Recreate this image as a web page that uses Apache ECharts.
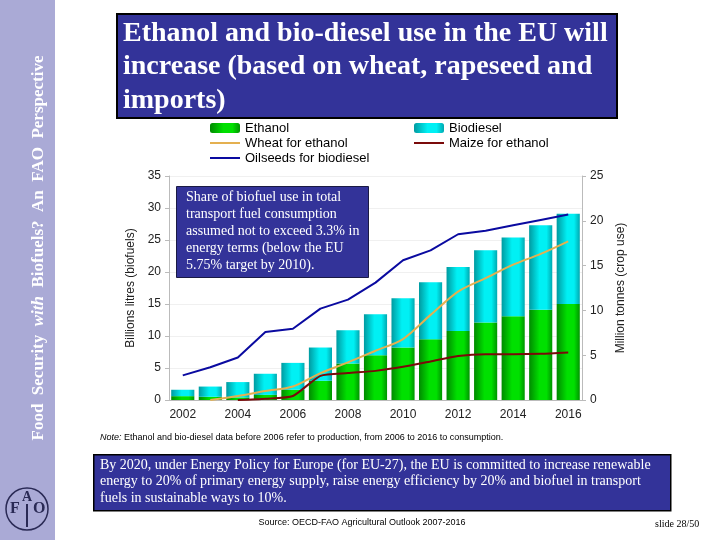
<!DOCTYPE html>
<html><head><meta charset="utf-8">
<script src="https://cdn.jsdelivr.net/npm/echarts@6/dist/echarts.min.js"></script>
<style>html,body{margin:0;padding:0;background:#fff}#c{width:720px;height:540px}</style>
</head><body><div id="c"></div>
<script>
const years = ['2002','2003','2004','2005','2006','2007','2008','2009','2010','2011','2012','2013','2014','2015','2016'];
const ethanol = [0.6, 0.5, 0.4, 0.8, 1.6, 3.0, 5.7, 7.0, 8.2, 9.5, 10.8, 12.1, 13.1, 14.1, 15.0];
const biodiesel = [1.0, 1.6, 2.4, 3.3, 4.2, 5.2, 5.2, 6.4, 7.7, 8.9, 10.0, 11.3, 12.3, 13.2, 14.1];
const wheatForEthanol = [null, 0, 0.45, 1.0, 1.5, 3.0, 4.2, 5.5, 6.8, 9.5, 12.1, 13.6, 15.1, 16.3, 17.7];
const maizeForEthanol = [null, null, 0, 0.15, 0.45, 2.7, 3.0, 3.25, 3.7, 4.3, 4.9, 5.1, 5.1, 5.15, 5.3];
const oilseedsForBiodiesel = [2.75, 3.65, 4.75, 7.6, 7.95, 10.2, 11.2, 13.1, 15.6, 16.7, 18.5, 18.9, 19.5, 20.1, 20.7];
const leftTicks = [0, 35, 5];
const rightTicks = [0, 25, 5];

const chart = echarts.init(document.getElementById('c'));
const grad = (a, b, c) => ({type:'linear', x:0, y:0, x2:1, y2:0, colorStops:[
  {offset:0, color:a},{offset:0.45, color:b},{offset:0.75, color:b},{offset:1, color:c}]});
const greenG = grad('#008a00', '#00e000', '#009400');
const cyanG = grad('#009aa0', '#00f0f4', '#00a8b0');
const serif = '"Liberation Serif","Times New Roman",serif';
const sans = '"Liberation Sans",Arial,sans-serif';
const lineIcon = 'path://M0,0L0.01,0L0,0.01Z M30,10L29.99,10L30,9.99Z M0,4L30,4L30,6L0,6Z';
const legText = {fontFamily: sans, fontSize: 13, color: '#000', lineHeight: 14};

chart.setOption({
  animation: false,
  backgroundColor: '#ffffff',
  grid: {left: 169, right: 138, top: 176, bottom: 140},
  legend: [
    {left: 210, top: 121, padding: 0, orient: 'vertical', itemWidth: 30, itemHeight: 10, itemGap: 1,
     textStyle: legText,
     data: [{name: 'Ethanol'}, {name: 'Wheat for ethanol', icon: lineIcon}, {name: 'Oilseeds for biodiesel', icon: lineIcon}]},
    {left: 414, top: 121, padding: 0, orient: 'vertical', itemWidth: 30, itemHeight: 10, itemGap: 1,
     textStyle: legText,
     data: [{name: 'Biodiesel'}, {name: 'Maize for ethanol', icon: lineIcon}]}
  ],
  xAxis: {
    type: 'category', data: years,
    axisLine: {lineStyle: {color: '#bbbbbb'}},
    axisTick: {interval: 0, lineStyle: {color: '#bbbbbb'}, length: 4},
    axisLabel: {interval: 1, fontFamily: sans, fontSize: 12, color: '#222', margin: 9}
  },
  yAxis: [
    {type: 'value', min: leftTicks[0], max: leftTicks[1], interval: leftTicks[2],
     name: 'Billions litres (biofuels)', nameLocation: 'middle', nameRotate: 90, nameGap: 28,
     nameTextStyle: {fontFamily: sans, fontSize: 12, color: '#222'},
     axisLine: {show: true, lineStyle: {color: '#bbbbbb'}},
     axisTick: {show: true, length: 4, lineStyle: {color: '#bbbbbb'}},
     axisLabel: {fontFamily: sans, fontSize: 12, color: '#222', margin: 8},
     splitLine: {lineStyle: {color: '#f0f0f0'}}},
    {type: 'value', min: rightTicks[0], max: rightTicks[1], interval: rightTicks[2],
     name: 'Million tonnes (crop use)', nameLocation: 'middle', nameRotate: 90, nameGap: 30,
     nameTextStyle: {fontFamily: sans, fontSize: 12, color: '#222'},
     axisLine: {show: true, lineStyle: {color: '#bbbbbb'}},
     axisTick: {show: true, length: 4, lineStyle: {color: '#bbbbbb'}},
     axisLabel: {fontFamily: sans, fontSize: 12, color: '#222', margin: 8},
     splitLine: {show: false}}
  ],
  series: [
    {name: 'Ethanol', type: 'bar', stack: 'b', data: ethanol, barCategoryGap: '16%',
     itemStyle: {color: greenG}},
    {name: 'Biodiesel', type: 'bar', stack: 'b', data: biodiesel, barCategoryGap: '16%',
     itemStyle: {color: cyanG}},
    {name: 'Wheat for ethanol', type: 'line', yAxisIndex: 1, data: wheatForEthanol, symbol: 'none',
     smooth: 0.3, lineStyle: {color: '#e4b050', width: 2}, itemStyle: {color: '#e4b050'}},
    {name: 'Maize for ethanol', type: 'line', yAxisIndex: 1, data: maizeForEthanol, symbol: 'none',
     smooth: 0.2, lineStyle: {color: '#7a0a0a', width: 2}, itemStyle: {color: '#7a0a0a'}},
    {name: 'Oilseeds for biodiesel', type: 'line', yAxisIndex: 1, data: oilseedsForBiodiesel, symbol: 'none',
     lineStyle: {color: '#0a0aa0', width: 2}, itemStyle: {color: '#0a0aa0'}}
  ],
  graphic: [
    {type: 'rect', left: 0, top: 0, shape: {width: 55, height: 540}, style: {fill: '#aaaad6'}, z: 0},
    {type: 'text', x: 39, y: 248, rotation: Math.PI / 2, z: 10,
     style: {text: '{b|Food  Security  }{i|with}{b|  Biofuels?  An  FAO  Perspective}', align: 'center', verticalAlign: 'middle',
       rich: {b: {fontFamily: serif, fontSize: 17, fontWeight: 'bold', fill: '#fff'},
              i: {fontFamily: serif, fontSize: 17, fontWeight: 'bold', fontStyle: 'italic', fill: '#fff'}}}},
    {type: 'circle', shape: {cx: 27, cy: 509, r: 21}, style: {fill: 'none', stroke: '#2a2a55', lineWidth: 1.5}, z: 10},
    {type: 'text', x: 10, y: 501, z: 10, style: {text: 'F', fontFamily: serif, fontSize: 16, fontWeight: 'bold', fill: '#2a2a55'}},
    {type: 'text', x: 22, y: 490, z: 10, style: {text: 'A', fontFamily: serif, fontSize: 14, fontWeight: 'bold', fill: '#2a2a55'}},
    {type: 'text', x: 33, y: 501, z: 10, style: {text: 'O', fontFamily: serif, fontSize: 16, fontWeight: 'bold', fill: '#2a2a55'}},
    {type: 'line', shape: {x1: 27, y1: 504, x2: 27, y2: 527}, style: {stroke: '#2a2a55', lineWidth: 2}, z: 10},

    {type: 'rect', left: 116, top: 13, shape: {width: 500, height: 104},
     style: {fill: '#333399', stroke: '#000', lineWidth: 2}, z: 5},
    {type: 'text', x: 123, y: 17, z: 6,
     style: {text: 'Ethanol and bio-diesel use in the EU will\nincrease (based on wheat, rapeseed and\nimports)',
       fontFamily: serif, fontSize: 28, fontWeight: 'bold', fill: '#fff', lineHeight: 33.5}},

    {type: 'rect', left: 176, top: 186, shape: {width: 192, height: 91},
     style: {fill: '#333399', stroke: '#1a1a44', lineWidth: 1}, z: 20},
    {type: 'text', x: 186, y: 189, z: 21,
     style: {text: 'Share of biofuel use in total\ntransport fuel consumption\nassumed not to exceed 3.3% in\nenergy terms (below the EU\n5.75% target by 2010).',
       fontFamily: serif, fontSize: 14, fill: '#fff', lineHeight: 17}},

    {type: 'text', x: 100, y: 433, z: 6,
     style: {text: '{i|Note:} Ethanol and bio-diesel data before 2006 refer to production, from 2006 to 2016 to consumption.',
       rich: {i: {fontFamily: sans, fontSize: 9, fontStyle: 'italic', fill: '#000'}},
       fontFamily: sans, fontSize: 9, fill: '#000'}},

    {type: 'rect', left: 93, top: 454, shape: {width: 577, height: 56},
     style: {fill: '#333399', stroke: '#000', lineWidth: 1.5}, z: 5},
    {type: 'text', x: 100, y: 457, z: 6,
     style: {text: 'By 2020, under Energy Policy for Europe (for EU-27), the EU is committed to increase renewable\nenergy to 20% of primary energy supply, raise energy efficiency by 20% and biofuel in transport\nfuels in sustainable ways to 10%.',
       fontFamily: serif, fontSize: 14, fill: '#fff', lineHeight: 16.5}},

    {type: 'text', x: 362, y: 523, z: 6,
     style: {text: 'Source: OECD-FAO Agricultural Outlook 2007-2016', align: 'center', verticalAlign: 'middle',
       fontFamily: sans, fontSize: 9, fill: '#000'}},
    {type: 'text', x: 655, y: 524, z: 6,
     style: {text: 'slide 28/50', verticalAlign: 'middle', fontFamily: serif, fontSize: 10, fill: '#000'}}
  ]
});
</script></body></html>
